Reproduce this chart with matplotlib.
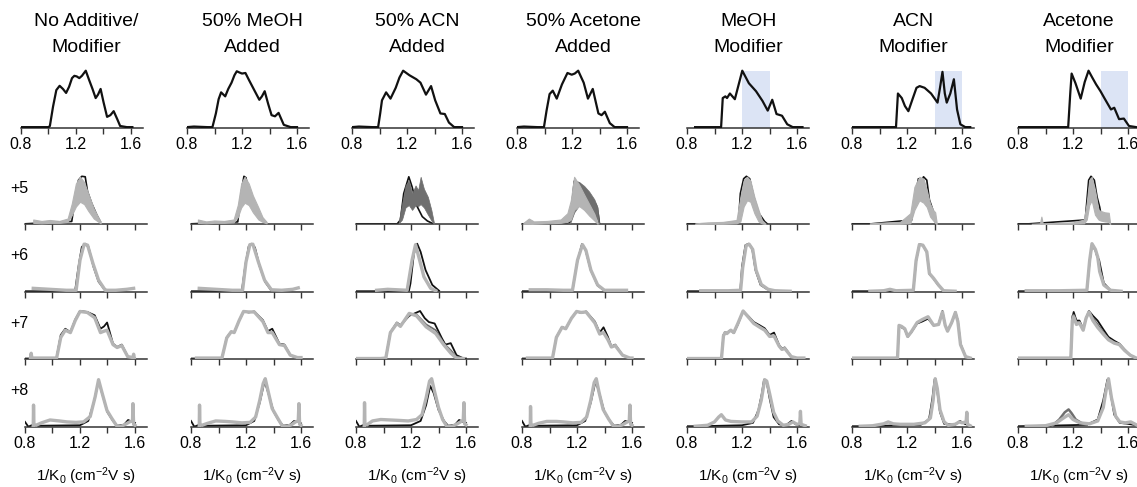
import matplotlib
matplotlib.use('Agg')
import matplotlib.pyplot as plt

plt.rcParams['font.family'] = ['Liberation Sans', 'DejaVu Sans']
plt.rcParams['mathtext.default'] = 'regular'

# Column titles and row labels
titles = [("No Additive/", "Modifier"), ("50% MeOH", "Added"), ("50% ACN", "Added"),
          ("50% Acetone", "Added"), ("MeOH", "Modifier"), ("ACN", "Modifier"),
          ("Acetone", "Modifier")]
charges = ['+5', '+6', '+7', '+8']
shade = [None, None, None, None, (1.2, 1.4), (1.4, 1.6), (1.4, 1.6)]

# Top row: total mobilograms (normalised)
top_x = [
    [0.80, 0.90, 1.00, 1.01, 1.033, 1.057, 1.081, 1.105, 1.128, 1.15, 1.171, 1.188, 1.205, 1.224,
     1.243, 1.271, 1.295, 1.32, 1.343, 1.36, 1.379, 1.40, 1.426, 1.45, 1.474, 1.50, 1.521, 1.57, 1.61],
    [0.80, 0.85, 0.95, 0.985, 1.01, 1.03, 1.048, 1.078, 1.10, 1.124, 1.145, 1.162, 1.18, 1.20,
     1.225, 1.25, 1.289, 1.326, 1.345, 1.365, 1.39, 1.415, 1.44, 1.466, 1.504, 1.554, 1.60],
    [0.80, 0.85, 0.95, 0.99, 1.005, 1.018, 1.048, 1.08, 1.118, 1.145, 1.172, 1.218, 1.268, 1.298,
     1.338, 1.375, 1.405, 1.443, 1.475, 1.505, 1.543, 1.60],
    [0.80, 0.85, 0.95, 0.996, 1.015, 1.037, 1.06, 1.089, 1.127, 1.167, 1.198, 1.22, 1.245, 1.285,
     1.316, 1.351, 1.392, 1.415, 1.439, 1.475, 1.51, 1.60],
    [0.859, 1.048, 1.06, 1.079, 1.091, 1.112, 1.148, 1.175, 1.202, 1.25, 1.302, 1.349, 1.387,
     1.42, 1.451, 1.491, 1.529, 1.569, 1.64],
    [0.80, 1.0, 1.12, 1.134, 1.162, 1.185, 1.21, 1.24, 1.269, 1.292, 1.328, 1.375, 1.422, 1.44,
     1.458, 1.475, 1.489, 1.515, 1.541, 1.564, 1.588, 1.624, 1.66],
    [0.80, 1.0, 1.165, 1.18, 1.19, 1.218, 1.256, 1.285, 1.313, 1.34, 1.368, 1.40, 1.428, 1.476,
     1.50, 1.535, 1.57, 1.607, 1.66],
]
top_y = [
    [0.01, 0.01, 0.01, 0.03, 0.37, 0.66, 0.735, 0.68, 0.61, 0.72, 0.87, 0.91, 0.90, 0.87, 0.91,
     1.0, 0.84, 0.68, 0.52, 0.58, 0.68, 0.45, 0.19, 0.22, 0.29, 0.15, 0.03, 0.01, 0.01],
    [0.01, 0.02, 0.01, 0.01, 0.25, 0.50, 0.62, 0.55, 0.68, 0.79, 0.92, 0.99, 0.97, 0.95, 0.96,
     0.84, 0.66, 0.49, 0.55, 0.64, 0.42, 0.22, 0.20, 0.26, 0.05, 0.01, 0.01],
    [0.01, 0.02, 0.01, 0.01, 0.25, 0.48, 0.62, 0.51, 0.70, 0.88, 1.0, 0.92, 0.85, 0.79, 0.58,
     0.73, 0.48, 0.25, 0.24, 0.09, 0.01, 0.01],
    [0.01, 0.02, 0.01, 0.01, 0.30, 0.59, 0.65, 0.51, 0.76, 0.96, 0.93, 0.95, 1.0, 0.79, 0.51,
     0.68, 0.25, 0.22, 0.28, 0.08, 0.01, 0.01],
    [0.01, 0.01, 0.52, 0.55, 0.52, 0.60, 0.50, 0.75, 1.0, 0.78, 0.64, 0.47, 0.30, 0.49, 0.24,
     0.21, 0.06, 0.01, 0.01],
    [0.01, 0.01, 0.01, 0.60, 0.52, 0.38, 0.29, 0.50, 0.70, 0.73, 0.70, 0.60, 0.44, 0.70, 0.98,
     0.60, 0.44, 0.60, 0.85, 0.32, 0.06, 0.01, 0.01],
    [0.01, 0.01, 0.01, 0.60, 0.95, 0.78, 0.51, 0.80, 1.0, 0.88, 0.76, 0.64, 0.52, 0.32, 0.35,
     0.15, 0.16, 0.03, 0.01],
]

# +5 charge state
p5_black_x = [
    [0.80, 1.14, 1.165, 1.189, 1.213, 1.238, 1.255, 1.286, 1.323, 1.347],
    [0.80, 1.14, 1.17, 1.185, 1.20, 1.215, 1.24, 1.27, 1.31, 1.34],
    [0.80, 1.10, 1.123, 1.147, 1.184, 1.208, 1.245, 1.282, 1.319, 1.355],
    [0.80, 1.10, 1.15, 1.18, 1.22, 1.26, 1.30, 1.34, 1.355, 1.364],
    [0.80, 1.065, 1.175, 1.188, 1.212, 1.232, 1.256, 1.286, 1.323, 1.364, 1.384],
    [0.80, 0.94, 1.234, 1.259, 1.283, 1.30, 1.32, 1.344, 1.363, 1.388, 1.405],
    [0.80, 0.88, 1.289, 1.314, 1.331, 1.355, 1.375, 1.394, 1.411],
]
p5_black_y = [
    [0.01, 0.06, 0.55, 0.92, 1.0, 0.99, 0.68, 0.43, 0.19, 0.06],
    [0.01, 0.05, 0.75, 1.0, 0.97, 0.75, 0.55, 0.35, 0.15, 0.05],
    [0.01, 0.01, 0.09, 0.64, 0.99, 0.78, 0.37, 0.16, 0.07, 0.02],
    [0.01, 0.01, 0.05, 0.90, 0.85, 0.70, 0.55, 0.40, 0.20, 0.0],
    [0.01, 0.01, 0.06, 0.64, 0.95, 1.0, 0.95, 0.57, 0.23, 0.06, 0.01],
    [0.01, 0.01, 0.09, 0.57, 0.95, 0.85, 0.99, 0.92, 0.51, 0.30, 0.06],
    [0.01, 0.01, 0.09, 0.92, 1.0, 0.92, 0.57, 0.36, 0.09],
]
p5_light_x = [
    [0.86, 0.92, 0.98, 1.05, 1.11, 1.14, 1.17, 1.20, 1.23, 1.26, 1.30, 1.33, 1.35],
    [0.85, 0.91, 0.97, 1.04, 1.11, 1.14, 1.165, 1.19, 1.22, 1.25, 1.29, 1.32, 1.35],
    None,
    [0.81, 0.85, 0.886, 0.983, 1.081, 1.13, 1.155, 1.179, 1.216, 1.252, 1.289, 1.326, 1.35],
    [0.86, 0.95, 1.06, 1.16, 1.188, 1.212, 1.237, 1.261, 1.29, 1.32, 1.344, 1.37],
    [0.93, 1.05, 1.15, 1.224, 1.254, 1.29, 1.32, 1.344, 1.368, 1.39, 1.405, 1.415],
    [0.90, 0.96, 0.97, 0.98, 1.08, 1.20, 1.28, 1.30, 1.318, 1.336, 1.36, 1.385, 1.40, 1.43,
     1.46, 1.47],
]
p5_light_hi = [
    [0.10, 0.07, 0.09, 0.07, 0.12, 0.43, 0.85, 0.99, 0.88, 0.64, 0.33, 0.16, 0.06],
    [0.10, 0.06, 0.08, 0.07, 0.10, 0.40, 0.85, 0.99, 0.85, 0.60, 0.35, 0.15, 0.05],
    None,
    [0.03, 0.12, 0.06, 0.07, 0.10, 0.23, 0.50, 0.99, 0.82, 0.62, 0.42, 0.22, 0.02],
    [0.02, 0.04, 0.05, 0.09, 0.57, 0.91, 0.99, 0.91, 0.57, 0.30, 0.09, 0.02],
    [0.02, 0.04, 0.05, 0.23, 0.78, 0.99, 0.95, 0.71, 0.43, 0.30, 0.25, 0.05],
    [0.01, 0.02, 0.16, 0.02, 0.03, 0.04, 0.10, 0.45, 0.92, 0.99, 0.72, 0.30, 0.28, 0.25,
     0.24, 0.02],
]
p5_light_lo = [
    [0.03, 0.02, 0.03, 0.03, 0.05, 0.19, 0.37, 0.47, 0.42, 0.28, 0.12, 0.06, 0.02],
    [0.03, 0.02, 0.03, 0.03, 0.04, 0.15, 0.35, 0.45, 0.40, 0.25, 0.10, 0.05, 0.02],
    None,
    [0.0, 0.0, 0.01, 0.02, 0.03, 0.05, 0.10, 0.30, 0.38, 0.30, 0.18, 0.08, 0.01],
    [0.0, 0.01, 0.01, 0.02, 0.06, 0.37, 0.50, 0.47, 0.23, 0.06, 0.02, 0.0],
    [0.0, 0.01, 0.01, 0.02, 0.30, 0.50, 0.45, 0.36, 0.16, 0.08, 0.03, 0.0],
    [0.0, 0.0, 0.0, 0.0, 0.01, 0.01, 0.02, 0.10, 0.40, 0.50, 0.20, 0.10, 0.08, 0.06, 0.05, 0.0],
]
p5_dark_x = [None, None,
             [1.111, 1.135, 1.16, 1.184, 1.208, 1.233, 1.252, 1.27, 1.294, 1.323, 1.348, 1.367],
             [1.15, 1.18, 1.216, 1.252, 1.289, 1.326, 1.35, 1.36],
             None, None, None]
p5_dark_hi = [None, None,
              [0.06, 0.43, 0.81, 0.92, 0.64, 0.81, 0.71, 0.99, 0.74, 0.57, 0.30, 0.03],
              [0.05, 0.92, 0.88, 0.80, 0.68, 0.52, 0.35, 0.03],
              None, None, None]
p5_dark_lo = [None, None,
              [0.02, 0.10, 0.35, 0.40, 0.30, 0.40, 0.38, 0.42, 0.35, 0.20, 0.08, 0.01],
              [0.02, 0.25, 0.40, 0.42, 0.40, 0.22, 0.08, 0.01],
              None, None, None]

# +6 charge state
p6_black_x = [
    [0.80, 1.10, 1.165, 1.189, 1.213, 1.238, 1.262, 1.298, 1.335, 1.372, 1.396],
    [0.80, 1.10, 1.17, 1.195, 1.22, 1.24, 1.265, 1.30, 1.34, 1.38],
    [0.80, 1.10, 1.185, 1.196, 1.221, 1.245, 1.27, 1.306, 1.355, 1.404],
    [0.80, 1.10, 1.167, 1.20, 1.236, 1.262, 1.30, 1.35, 1.40],
    [0.80, 0.86, 1.10, 1.188, 1.20, 1.225, 1.249, 1.274, 1.298, 1.335, 1.384, 1.433, 1.55],
    [0.80, 0.86, 1.20, 1.246, 1.266, 1.29, 1.315, 1.344, 1.363, 1.393, 1.429, 1.466],
    [0.80, 0.88, 1.20, 1.301, 1.321, 1.338, 1.363, 1.375, 1.39, 1.424, 1.473],
]
p6_black_y = [
    [0.01, 0.01, 0.03, 0.52, 0.93, 1.0, 0.93, 0.52, 0.21, 0.07, 0.03],
    [0.01, 0.01, 0.02, 0.55, 0.95, 1.0, 0.92, 0.52, 0.20, 0.04],
    [0.01, 0.01, 0.02, 0.17, 0.79, 1.0, 0.83, 0.45, 0.14, 0.02],
    [0.01, 0.01, 0.02, 0.60, 0.99, 0.87, 0.45, 0.13, 0.02],
    [0.01, 0.01, 0.01, 0.03, 0.52, 0.97, 1.0, 0.90, 0.45, 0.14, 0.05, 0.02, 0.01],
    [0.01, 0.01, 0.01, 0.03, 0.63, 0.99, 0.97, 0.82, 0.37, 0.27, 0.13, 0.02],
    [0.01, 0.01, 0.01, 0.03, 0.62, 0.97, 0.86, 0.74, 0.66, 0.18, 0.03],
]
p6_light_x = [
    [0.86, 0.98, 1.10, 1.172, 1.20, 1.23, 1.255, 1.294, 1.335, 1.384, 1.46, 1.54, 1.59],
    [0.86, 0.98, 1.10, 1.175, 1.20, 1.228, 1.25, 1.29, 1.335, 1.385, 1.46, 1.54, 1.58],
    [0.95, 1.03, 1.172, 1.208, 1.233, 1.257, 1.294, 1.343, 1.38],
    [0.86, 0.98, 1.10, 1.167, 1.204, 1.24, 1.265, 1.301, 1.35, 1.40, 1.50, 1.56],
    [0.90, 1.10, 1.19, 1.205, 1.23, 1.252, 1.278, 1.302, 1.34, 1.39, 1.44, 1.55],
    [0.93, 1.03, 1.076, 1.12, 1.246, 1.266, 1.29, 1.315, 1.344, 1.363, 1.393, 1.429, 1.466, 1.55],
    [0.86, 1.10, 1.301, 1.321, 1.338, 1.363, 1.38, 1.394, 1.424, 1.473, 1.55],
]
p6_light_y = [
    [0.07, 0.05, 0.03, 0.03, 0.66, 0.99, 0.97, 0.59, 0.24, 0.03, 0.03, 0.05, 0.07],
    [0.07, 0.05, 0.03, 0.03, 0.62, 0.98, 0.99, 0.62, 0.24, 0.04, 0.03, 0.05, 0.08],
    [0.03, 0.05, 0.03, 0.66, 0.98, 0.72, 0.31, 0.07, 0.02],
    [0.04, 0.04, 0.03, 0.03, 0.66, 0.98, 0.86, 0.45, 0.14, 0.03, 0.03, 0.03],
    [0.02, 0.02, 0.03, 0.50, 0.96, 0.99, 0.88, 0.45, 0.15, 0.05, 0.02, 0.01],
    [0.01, 0.02, 0.05, 0.02, 0.03, 0.65, 0.98, 0.97, 0.83, 0.38, 0.28, 0.14, 0.02, 0.01],
    [0.02, 0.02, 0.03, 0.65, 1.0, 0.88, 0.72, 0.42, 0.14, 0.03, 0.01],
]

# +7 charge state
p7_black_x = [
    [0.80, 0.98, 1.029, 1.06, 1.093, 1.13, 1.165, 1.20, 1.253, 1.307, 1.349, 1.375, 1.397, 1.44,
     1.47, 1.504, 1.547, 1.60],
    [0.80, 0.98, 1.025, 1.06, 1.093, 1.114, 1.15, 1.182, 1.22, 1.26, 1.323, 1.36, 1.391, 1.443,
     1.48, 1.522, 1.574, 1.60],
    [0.80, 0.98, 1.017, 1.05, 1.097, 1.123, 1.187, 1.266, 1.30, 1.33, 1.372, 1.425, 1.45, 1.489,
     1.531, 1.584, 1.60],
    [0.80, 0.98, 1.022, 1.05, 1.091, 1.118, 1.16, 1.197, 1.23, 1.266, 1.33, 1.365, 1.393, 1.425,
     1.45, 1.478, 1.531, 1.584, 1.60],
    [0.80, 0.86, 1.04, 1.051, 1.065, 1.077, 1.09, 1.105, 1.119, 1.14, 1.17, 1.208, 1.25, 1.286,
     1.33, 1.365, 1.401, 1.433, 1.47, 1.49, 1.511, 1.558, 1.60, 1.65],
    [0.80, 0.90, 1.12, 1.131, 1.142, 1.16, 1.184, 1.205, 1.23, 1.274, 1.31, 1.353, 1.394, 1.43,
     1.458, 1.478, 1.495, 1.525, 1.552, 1.57, 1.589, 1.626, 1.66],
    [0.80, 0.86, 1.17, 1.184, 1.195, 1.205, 1.225, 1.247, 1.274, 1.295, 1.316, 1.345, 1.379,
     1.42, 1.458, 1.50, 1.537, 1.575, 1.616, 1.66],
]
p7_black_y = [
    [0.01, 0.01, 0.02, 0.50, 0.63, 0.56, 0.82, 1.0, 0.98, 0.91, 0.63, 0.68, 0.76, 0.32, 0.25,
     0.30, 0.05, 0.01],
    [0.01, 0.01, 0.02, 0.45, 0.57, 0.55, 0.80, 0.99, 0.97, 0.99, 0.81, 0.58, 0.63, 0.32, 0.30,
     0.08, 0.01, 0.01],
    [0.01, 0.01, 0.02, 0.55, 0.76, 0.70, 0.90, 1.0, 0.85, 0.77, 0.74, 0.43, 0.30, 0.33, 0.08,
     0.01, 0.01],
    [0.01, 0.01, 0.02, 0.45, 0.67, 0.63, 0.85, 0.99, 0.96, 0.99, 0.78, 0.55, 0.66, 0.46, 0.26,
     0.30, 0.08, 0.01, 0.01],
    [0.01, 0.01, 0.01, 0.02, 0.50, 0.56, 0.54, 0.58, 0.60, 0.54, 0.72, 1.0, 0.88, 0.77, 0.70,
     0.64, 0.50, 0.55, 0.29, 0.22, 0.24, 0.05, 0.01, 0.01],
    [0.01, 0.01, 0.01, 0.02, 0.70, 0.66, 0.62, 0.46, 0.55, 0.74, 0.78, 0.84, 0.70, 0.72, 1.0,
     0.70, 0.60, 0.75, 0.98, 0.80, 0.32, 0.05, 0.01],
    [0.01, 0.01, 0.01, 0.02, 0.85, 0.98, 0.80, 0.80, 0.63, 0.85, 1.0, 0.90, 0.80, 0.62, 0.46,
     0.38, 0.32, 0.20, 0.08, 0.02],
]
p7_light_x = [
    [0.84, 0.845, 0.85, 0.90, 1.03, 1.06, 1.093, 1.13, 1.165, 1.20, 1.253, 1.307, 1.349, 1.375,
     1.397, 1.44, 1.47, 1.504, 1.547, 1.585, 1.59, 1.595],
    [0.84, 0.98, 1.025, 1.06, 1.093, 1.114, 1.15, 1.182, 1.22, 1.26, 1.323, 1.36, 1.391, 1.443,
     1.48, 1.522, 1.574, 1.60],
    [0.80, 0.98, 1.017, 1.05, 1.097, 1.123, 1.187, 1.24, 1.31, 1.38, 1.44, 1.49, 1.53, 1.58],
    [0.84, 0.98, 1.022, 1.05, 1.091, 1.118, 1.16, 1.197, 1.23, 1.266, 1.33, 1.365, 1.393, 1.425,
     1.45, 1.478, 1.531, 1.584, 1.60],
    [0.80, 0.86, 1.04, 1.051, 1.065, 1.077, 1.09, 1.105, 1.119, 1.14, 1.17, 1.208, 1.25, 1.286,
     1.33, 1.365, 1.401, 1.433, 1.47, 1.49, 1.511, 1.558, 1.60, 1.65],
    [0.80, 0.90, 1.12, 1.131, 1.142, 1.16, 1.184, 1.205, 1.23, 1.274, 1.31, 1.353, 1.394, 1.43,
     1.458, 1.478, 1.495, 1.525, 1.552, 1.57, 1.589, 1.626, 1.66],
    [0.80, 0.86, 1.17, 1.184, 1.195, 1.205, 1.225, 1.247, 1.274, 1.295, 1.316, 1.345, 1.379,
     1.42, 1.458, 1.50, 1.537, 1.575, 1.616, 1.66],
]
p7_light_y = [
    [0.02, 0.12, 0.02, 0.02, 0.02, 0.45, 0.60, 0.55, 0.80, 0.99, 0.97, 0.86, 0.55, 0.58, 0.60,
     0.30, 0.24, 0.28, 0.05, 0.03, 0.10, 0.02],
    [0.02, 0.02, 0.02, 0.44, 0.57, 0.55, 0.80, 0.99, 0.98, 0.98, 0.78, 0.55, 0.55, 0.30, 0.28,
     0.08, 0.03, 0.03],
    [0.01, 0.01, 0.02, 0.55, 0.74, 0.68, 0.95, 0.90, 0.67, 0.53, 0.29, 0.12, 0.02, 0.01],
    [0.02, 0.02, 0.02, 0.45, 0.66, 0.63, 0.85, 0.99, 0.97, 0.98, 0.75, 0.52, 0.55, 0.40, 0.25,
     0.28, 0.08, 0.02, 0.02],
    [0.01, 0.01, 0.01, 0.02, 0.48, 0.55, 0.53, 0.57, 0.60, 0.55, 0.74, 1.0, 0.86, 0.74, 0.66,
     0.60, 0.47, 0.48, 0.27, 0.20, 0.22, 0.05, 0.02, 0.02],
    [0.02, 0.02, 0.02, 0.02, 0.70, 0.68, 0.63, 0.47, 0.56, 0.76, 0.82, 0.88, 0.70, 0.72, 0.98,
     0.70, 0.58, 0.76, 0.97, 0.78, 0.30, 0.05, 0.02],
    [0.02, 0.02, 0.02, 0.02, 0.80, 0.88, 0.72, 0.75, 0.60, 0.85, 0.98, 0.80, 0.66, 0.52, 0.40,
     0.33, 0.30, 0.18, 0.08, 0.02],
]
p7_dark_x = [None, None,
             [0.80, 0.98, 1.017, 1.05, 1.097, 1.123, 1.187, 1.24, 1.31, 1.38, 1.44, 1.49, 1.53, 1.58],
             None, None, None,
             [0.80, 0.86, 1.17, 1.184, 1.195, 1.205, 1.225, 1.247, 1.274, 1.295, 1.316, 1.345,
              1.379, 1.42, 1.458, 1.50, 1.537, 1.575, 1.616, 1.66]]
p7_dark_y = [None, None,
             [0.01, 0.01, 0.02, 0.55, 0.75, 0.69, 0.93, 0.93, 0.72, 0.60, 0.32, 0.18, 0.04, 0.01],
             None, None, None,
             [0.02, 0.02, 0.02, 0.02, 0.90, 0.92, 0.75, 0.77, 0.62, 0.85, 0.99, 0.85, 0.72, 0.56,
              0.42, 0.35, 0.31, 0.19, 0.08, 0.02]]

# +8 charge state
p8_black_x = [
    [0.80, 0.824, 0.849, 0.90, 1.20, 1.26, 1.30, 1.335, 1.36, 1.40, 1.44, 1.47, 1.52, 1.55, 1.58, 1.60],
    [0.80, 0.824, 0.85, 0.90, 1.20, 1.26, 1.30, 1.335, 1.36, 1.40, 1.44, 1.47, 1.52, 1.55, 1.58, 1.60],
    [0.80, 0.824, 0.85, 0.90, 1.20, 1.27, 1.31, 1.34, 1.365, 1.40, 1.44, 1.47, 1.52, 1.55, 1.58, 1.60],
    [0.80, 0.824, 0.85, 0.90, 1.20, 1.26, 1.30, 1.335, 1.36, 1.40, 1.44, 1.47, 1.52, 1.55, 1.58, 1.60],
    [0.80, 0.90, 1.20, 1.28, 1.32, 1.345, 1.36, 1.38, 1.40, 1.43, 1.47, 1.52, 1.56, 1.59, 1.62, 1.66],
    [0.80, 0.90, 1.30, 1.36, 1.385, 1.40, 1.415, 1.44, 1.47, 1.55, 1.585, 1.62, 1.66],
    [0.80, 1.0, 1.30, 1.38, 1.42, 1.45, 1.47, 1.50, 1.54, 1.60, 1.66],
]
p8_black_y = [
    [0.10, 0.0, 0.03, 0.02, 0.03, 0.12, 0.50, 0.95, 0.70, 0.30, 0.12, 0.02, 0.04, 0.14, 0.10, 0.08],
    [0.12, 0.0, 0.03, 0.02, 0.03, 0.12, 0.50, 0.95, 0.72, 0.32, 0.12, 0.02, 0.04, 0.12, 0.10, 0.07],
    [0.12, 0.0, 0.03, 0.02, 0.03, 0.12, 0.45, 0.85, 0.70, 0.35, 0.12, 0.02, 0.04, 0.14, 0.10, 0.08],
    [0.12, 0.0, 0.03, 0.02, 0.03, 0.12, 0.50, 0.95, 0.72, 0.30, 0.12, 0.02, 0.04, 0.12, 0.10, 0.08],
    [0.01, 0.01, 0.03, 0.08, 0.35, 0.70, 0.98, 0.92, 0.60, 0.20, 0.05, 0.03, 0.12, 0.05, 0.03, 0.02],
    [0.01, 0.01, 0.04, 0.15, 0.60, 0.98, 0.85, 0.30, 0.06, 0.04, 0.12, 0.06, 0.02],
    [0.01, 0.02, 0.04, 0.15, 0.55, 0.98, 0.75, 0.25, 0.08, 0.06, 0.03],
]
p8_light_x = [
    [0.86, 0.862, 0.865, 0.88, 0.92, 0.982, 1.05, 1.105, 1.17, 1.226, 1.274, 1.31, 1.335, 1.359,
     1.396, 1.432, 1.469, 1.50, 1.53, 1.56, 1.582, 1.585, 1.59, 1.60],
    [0.86, 0.862, 0.865, 0.88, 0.92, 0.98, 1.05, 1.10, 1.17, 1.23, 1.27, 1.30, 1.325, 1.34,
     1.36, 1.39, 1.43, 1.465, 1.50, 1.53, 1.56, 1.58, 1.585, 1.59, 1.60],
    [0.86, 0.862, 0.865, 0.88, 0.92, 0.98, 1.05, 1.12, 1.18, 1.24, 1.28, 1.31, 1.335, 1.35,
     1.37, 1.40, 1.43, 1.46, 1.50, 1.53, 1.56, 1.58, 1.585, 1.59, 1.60],
    [0.86, 0.862, 0.865, 0.88, 0.92, 0.98, 1.05, 1.10, 1.17, 1.23, 1.27, 1.30, 1.325, 1.34,
     1.36, 1.39, 1.43, 1.465, 1.50, 1.53, 1.56, 1.58, 1.585, 1.59, 1.60],
    [0.86, 0.95, 1.00, 1.03, 1.05, 1.08, 1.12, 1.20, 1.27, 1.31, 1.34, 1.365, 1.38, 1.40, 1.43,
     1.46, 1.50, 1.54, 1.57, 1.60, 1.62, 1.625, 1.63, 1.66],
    [0.86, 0.95, 1.03, 1.063, 1.10, 1.15, 1.25, 1.33, 1.37, 1.39, 1.405, 1.42, 1.44, 1.47, 1.50,
     1.55, 1.58, 1.60, 1.63, 1.635, 1.64, 1.66],
    [0.86, 1.0, 1.08, 1.13, 1.168, 1.20, 1.25, 1.32, 1.38, 1.42, 1.44, 1.458, 1.48, 1.51, 1.54,
     1.58, 1.62, 1.66],
]
p8_light_y = [
    [0.02, 0.45, 0.05, 0.03, 0.08, 0.14, 0.12, 0.10, 0.09, 0.10, 0.21, 0.62, 0.98, 0.72, 0.34,
     0.17, 0.01, 0.01, 0.05, 0.10, 0.12, 0.48, 0.05, 0.03],
    [0.02, 0.45, 0.05, 0.03, 0.07, 0.12, 0.11, 0.10, 0.08, 0.09, 0.20, 0.55, 0.90, 1.0, 0.75,
     0.38, 0.18, 0.01, 0.01, 0.04, 0.10, 0.12, 0.48, 0.05, 0.03],
    [0.02, 0.50, 0.05, 0.04, 0.12, 0.15, 0.14, 0.13, 0.12, 0.15, 0.25, 0.60, 0.95, 1.0, 0.75,
     0.40, 0.15, 0.01, 0.01, 0.05, 0.10, 0.14, 0.50, 0.06, 0.04],
    [0.02, 0.42, 0.05, 0.03, 0.07, 0.11, 0.11, 0.10, 0.08, 0.09, 0.20, 0.55, 0.92, 1.0, 0.72,
     0.36, 0.16, 0.01, 0.01, 0.04, 0.09, 0.12, 0.45, 0.05, 0.03],
    [0.01, 0.03, 0.10, 0.20, 0.25, 0.14, 0.11, 0.10, 0.10, 0.22, 0.55, 0.98, 0.95, 0.70, 0.30,
     0.12, 0.03, 0.05, 0.10, 0.05, 0.06, 0.32, 0.05, 0.02],
    [0.01, 0.02, 0.06, 0.10, 0.06, 0.05, 0.05, 0.08, 0.18, 0.55, 1.0, 0.80, 0.35, 0.10, 0.03,
     0.05, 0.10, 0.08, 0.10, 0.30, 0.05, 0.02],
    [0.01, 0.02, 0.08, 0.18, 0.25, 0.15, 0.08, 0.06, 0.12, 0.40, 0.75, 1.0, 0.60, 0.22, 0.10,
     0.08, 0.10, 0.04],
]
p8_dark_x = [None, None, None, None, None, None,
             [1.05, 1.10, 1.14, 1.168, 1.19, 1.22, 1.26, 1.30]]
p8_dark_y = [None, None, None, None, None, None,
             [0.02, 0.15, 0.30, 0.36, 0.28, 0.15, 0.08, 0.04]]

# ---- layout (pixels) ----
W, H = 1137, 487
BLACK, DARK, LIGHT, SHADE = '#111111', '#6f6f6f', '#b4b4b4', '#dce4f5'
col_left = [25, 191, 356, 522, 687, 852, 1018]
top_shift = [-4, -4, -4, -5, 0, 0, 0]
row_base = [224.3, 291.7, 359.0, 426.7]
X0, X1 = 0.80, 1.69
PPU = 137.5
YTOP = 1.06

fig = plt.figure(figsize=(W / 100, H / 100), dpi=100)


def make_axes(left, base, data_h, labels):
    w = (X1 - X0) * PPU
    h = data_h * YTOP
    ax = fig.add_axes([left / W, (H - base) / H, w / W, h / H])
    ax.set_xlim(X0, X1)
    ax.set_ylim(0, YTOP)
    for s in ('left', 'right', 'top'):
        ax.spines[s].set_visible(False)
    ax.spines['bottom'].set_linewidth(1.1)
    ax.spines['bottom'].set_color('#333333')
    ax.set_yticks([])
    ax.set_xticks([0.8, 1.0, 1.2, 1.4, 1.6])
    if labels:
        ax.set_xticklabels(['0.8', '', '1.2', '', '1.6'])
    else:
        ax.set_xticklabels([])
    ax.tick_params(axis='x', direction='out', length=4.5, width=1.0, color='#333333',
                   labelsize=11.5, pad=2.5)
    ax.patch.set_alpha(0)
    return ax


for c in range(7):
    cx = col_left[c] + (X1 - X0) * PPU / 2

    # column titles
    fig.text(cx / W, 1 - 21 / H, titles[c][0], ha='center', va='center', fontsize=14)
    fig.text(cx / W, 1 - 48 / H, titles[c][1], ha='center', va='center', fontsize=14)

    # top row
    ax = make_axes(col_left[c] + top_shift[c], 127.7, 57, True)
    if shade[c] is not None:
        ax.fill_between(list(shade[c]), 0, 1.0, color=SHADE, lw=0, zorder=0)
    ax.plot(top_x[c], top_y[c], color=BLACK, lw=1.6, zorder=3)

    # +5
    ax = make_axes(col_left[c], row_base[0], 48, False)
    ax.plot(p5_black_x[c], p5_black_y[c], color=BLACK, lw=1.2, zorder=2)
    if p5_dark_x[c] is not None:
        ax.fill_between(p5_dark_x[c], p5_dark_lo[c], p5_dark_hi[c], color=DARK, lw=0.5, zorder=3)
    if p5_light_x[c] is not None:
        ax.fill_between(p5_light_x[c], p5_light_lo[c], p5_light_hi[c], color=LIGHT, lw=0.8,
                        zorder=4)

    # +6
    ax = make_axes(col_left[c], row_base[1], 48, False)
    ax.plot(p6_black_x[c], p6_black_y[c], color=BLACK, lw=1.3, zorder=2)
    ax.plot(p6_light_x[c], p6_light_y[c], color=LIGHT, lw=2.4, zorder=4)

    # +7
    ax = make_axes(col_left[c], row_base[2], 48, False)
    ax.plot(p7_black_x[c], p7_black_y[c], color=BLACK, lw=1.3, zorder=2)
    if p7_dark_x[c] is not None:
        ax.plot(p7_dark_x[c], p7_dark_y[c], color=DARK, lw=1.3, zorder=3)
    ax.plot(p7_light_x[c], p7_light_y[c], color=LIGHT, lw=2.4, zorder=4)

    # +8
    ax = make_axes(col_left[c], row_base[3], 48, True)
    ax.plot(p8_black_x[c], p8_black_y[c], color=BLACK, lw=1.3, zorder=2)
    if p8_dark_x[c] is not None:
        ax.plot(p8_dark_x[c], p8_dark_y[c], color=DARK, lw=1.8, zorder=3)
    ax.plot(p8_light_x[c], p8_light_y[c], color=LIGHT, lw=2.4, zorder=4)

    # x axis label
    fig.text(cx / W, 1 - 476 / H, r'1/K$_0$ (cm$^{-2}$V s)', ha='center', va='center',
             fontsize=11)

# charge-state labels
for r, lab in enumerate(charges):
    fig.text(19 / W, 1 - (row_base[r] - 36) / H, lab, ha='center', va='center', fontsize=11.5)

fig.savefig('out.png', dpi=100)
